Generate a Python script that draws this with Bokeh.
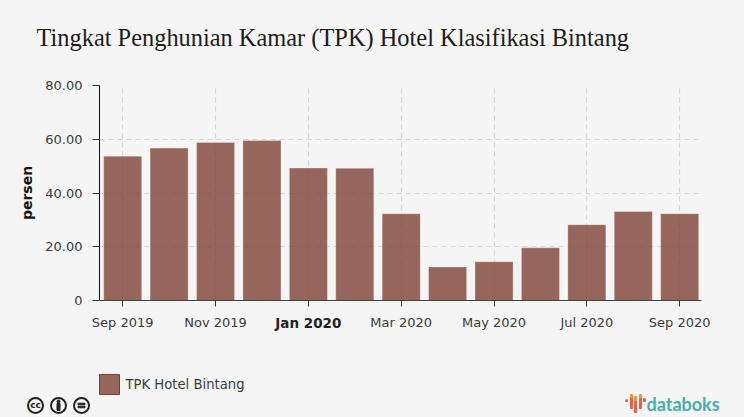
from bokeh.plotting import figure
from bokeh.embed import file_html
from bokeh.layouts import column
from bokeh.resources import INLINE
from bokeh.core.properties import value
from bokeh.models import FixedTicker, LinearAxis, Range1d

months = ["Sep 2019", "Oct 2019", "Nov 2019", "Dec 2019", "Jan 2020", "Feb 2020", "Mar 2020",
          "Apr 2020", "May 2020", "Jun 2020", "Jul 2020", "Aug 2020", "Sep 2020"]
tpk = [53.7, 56.7, 58.8, 59.5, 49.3, 49.2, 32.3, 12.5, 14.4, 19.6, 28.2, 33.1, 32.3]
x_pos = list(range(len(months)))
y_ticks = [0, 20, 40, 60, 80]
y_labels = {0: "0", 20: "20.00", 40: "40.00", 60: "60.00", 80: "80.00"}
x_ticks = [0, 2, 4, 6, 8, 10, 12]
bold_tick = 4
series_name = "TPK Hotel Bintang"
title_text = "Tingkat Penghunian Kamar (TPK) Hotel Klasifikasi Bintang"

BG = "#f5f5f5"
BROWN = "#7e4135"
L, R, T, B = 99, 701, 85, 300   # frame in window pixels
HEAD_H = 70
MAIN_END = 345

# header: a plain figure whose data units are the window's pixels
h = figure(width=744, height=HEAD_H, output_backend="svg", toolbar_location=None,
           min_border=0, x_range=Range1d(0, 744), y_range=Range1d(HEAD_H, 0),
           background_fill_color=BG, border_fill_color=BG, frame_align=False)
h.outline_line_color = None
h.axis.visible = False
h.grid.visible = False
h.text(x=[36], y=[37], text=[title_text], text_baseline="middle",
       text_font=value("Liberation Serif"), text_font_size="24.4px", text_color="#1c1c1c")

p = figure(width=744, height=MAIN_END - HEAD_H, output_backend="svg", toolbar_location=None,
           min_border_left=L, min_border_right=744 - R, min_border_top=T - HEAD_H,
           min_border_bottom=MAIN_END - B,
           x_range=Range1d(-0.5, 12.47), y_range=Range1d(0, 80),
           background_fill_color=BG, border_fill_color=BG, frame_align=False)
p.outline_line_color = None

p.vbar(x=x_pos, top=tpk, width=0.82, fill_color=BROWN, fill_alpha=0.8,
       line_color="#ffffff", line_alpha=0.3, line_width=1)

for g, tick in ((p.xgrid[0], x_ticks), (p.ygrid[0], y_ticks)):
    g.ticker = FixedTicker(ticks=tick)
    g.grid_line_color = "#d6d6d6"
    g.grid_line_dash = "5 4"
    g.grid_line_width = 1.2

ax = p.xaxis[0]
ax.ticker = FixedTicker(ticks=x_ticks)
ax.major_label_overrides = {i: (months[i] if i != bold_tick else " ") for i in x_ticks}
ax.axis_line_color = "#444444"
ax.major_tick_line_color = "#333333"
ax.major_tick_out = 6
ax.major_tick_in = 0
ax.minor_tick_line_color = None
ax.major_label_standoff = 8
ax.major_label_text_font = "DejaVu Sans"
ax.major_label_text_font_size = "13px"
ax.major_label_text_color = "#3a3a3a"

# the one bold tick label gets an axis of its own, pulled back up beside the first one
ax2 = LinearAxis(ticker=FixedTicker(ticks=[bold_tick]),
                 major_label_overrides={bold_tick: months[bold_tick]})
ax2.axis_line_color = None
ax2.major_tick_line_color = None
ax2.minor_tick_line_color = None
ax2.major_tick_out = 0
ax2.major_tick_in = 0
ax2.major_label_standoff = -18
ax2.major_label_text_font = "DejaVu Sans"
ax2.major_label_text_font_size = "13.5px"
ax2.major_label_text_font_style = "bold"
ax2.major_label_text_color = "#222222"
p.add_layout(ax2, "below")

ay = p.yaxis[0]
ay.ticker = FixedTicker(ticks=y_ticks)
ay.major_label_overrides = y_labels
ay.axis_line_color = "#111111"
ay.major_tick_line_color = "#333333"
ay.major_tick_out = 7
ay.major_tick_in = 0
ay.minor_tick_line_color = None
ay.major_label_standoff = 10
ay.major_label_text_font = "DejaVu Sans"
ay.major_label_text_font_size = "13px"
ay.major_label_text_color = "#3a3a3a"
ay.axis_label = "persen"
ay.axis_label_text_font = "DejaVu Sans"
ay.axis_label_text_font_size = "14px"
ay.axis_label_text_font_style = "bold"
ay.axis_label_text_color = "#111111"
ay.axis_label_standoff = 7

# footer: a plain figure whose data units are the window's pixels
f = figure(width=744, height=417 - MAIN_END, output_backend="svg", toolbar_location=None,
           min_border=0, x_range=Range1d(0, 744), y_range=Range1d(417, MAIN_END),
           background_fill_color=BG, border_fill_color=BG, frame_align=False)
f.outline_line_color = None
f.axis.visible = False
f.grid.visible = False

f.rect(x=[109], y=[384], width=20, height=20, fill_color=BROWN, fill_alpha=0.8,
       line_color=BROWN, line_width=1)
f.text(x=[125], y=[384], text=[series_name], text_baseline="middle",
       text_font=value("DejaVu Sans"), text_font_size="13.2px", text_color="#3a3a3a")

cc_x = [35, 58, 81]
f.scatter(x=cc_x, y=[405] * 3, size=15, marker="circle", fill_color=BG, line_color="#222222", line_width=2)
f.text(x=[35], y=[404.5], text=["cc"], text_align="center", text_baseline="middle",
       text_font=value("DejaVu Sans"), text_font_size="9px", text_font_style="bold", text_color="#222222")
f.vbar(x=[58], top=[403], bottom=[410], width=3, color="#222222")
f.scatter(x=[58], y=[401], size=3, marker="circle", color="#222222")
f.hbar(y=[403.5, 406.5], left=[77.5] * 2, right=[84.5] * 2, height=1.5, color="#222222")

logo_x = [626, 631, 635, 640, 644]
logo_top = [399, 394, 396, 394, 398]
logo_mid = [400, 398, 401, 398, 399]
logo_bot = [401, 408, 412, 408, 401]
f.vbar(x=logo_x, top=logo_top, bottom=logo_mid, width=2, color="#f0953f")
f.vbar(x=logo_x, top=logo_mid, bottom=logo_bot, width=2, color="#e8604c")
f.text(x=[646], y=[403], text=["databoks"], text_baseline="middle",
       text_font=value("Lato"), text_font_size="18px", text_font_style="bold", text_color="#45b0ad")

page = column(h, p, f, spacing=0)
html = file_html(page, INLINE).replace(
    "</head>", "<style>html,body{background:#f5f5f5;margin:0;padding:0;overflow:hidden}</style></head>")
open("out.html", "w").write(html)
